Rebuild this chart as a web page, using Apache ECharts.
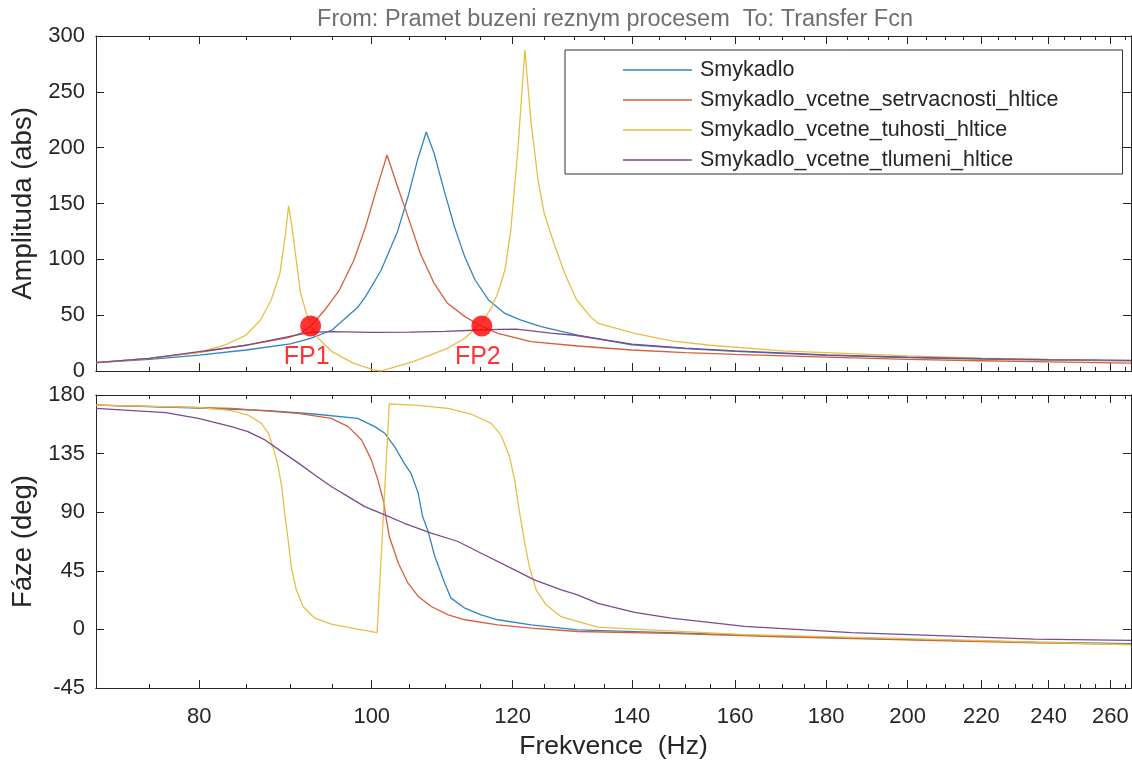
<!DOCTYPE html>
<html>
<head>
<meta charset="utf-8">
<title>Bode</title>
<script src="https://cdn.jsdelivr.net/npm/echarts@6/dist/echarts.min.js"></script>
<style>
  html, body { margin: 0; padding: 0; background: #fff; }
  #chart { width: 1132px; height: 762px; }
</style>
</head>
<body>
<div id="chart"></div>
<script>
// frekvence (Hz) a odectene hodnoty
const seriesNames = ['Smykadlo', 'Smykadlo_vcetne_setrvacnosti_hltice', 'Smykadlo_vcetne_tuhosti_hltice', 'Smykadlo_vcetne_tlumeni_hltice'];

// amplituda
const fAmpSmykadlo = [70, 75, 80, 85, 90, 92.4, 95, 98.2, 99.2, 101.2, 103.4, 104.8, 106.1, 107.3, 108.4, 109.8, 111.3, 112.8, 114.3, 116.3, 118.8, 121.2, 124.5, 130.5, 140, 150, 160, 180, 200, 220, 240, 267];
const ampSmykadlo = [7.5, 10.4, 14.3, 18.8, 24.2, 29.3, 36.7, 57, 66.6, 90, 125, 156, 189, 214, 195, 162, 129, 102, 81.5, 63.6, 51.6, 45.7, 39.7, 32.2, 23.5, 20, 17.5, 14, 12, 10.7, 9.8, 9];

const fAmpSetrv = [70, 75, 80, 85.2, 89.8, 91.2, 92.4, 94.1, 95.9, 97.7, 99.2, 100.5, 102, 103.4, 104.8, 106.5, 108.4, 110.3, 112.8, 115.2, 117.7, 122.9, 130.5, 140, 150, 160, 180, 200, 220, 240, 267];
const ampSetrv = [7.5, 11.3, 16.7, 23.3, 29.9, 33.7, 40, 54.6, 72.5, 99, 129, 160, 193.4, 165, 138, 105, 78.5, 60.6, 48.7, 40.3, 33.7, 26.3, 22.4, 18.8, 16.5, 14.8, 12.5, 10.5, 9.2, 8.2, 7];

const fAmpTuh = [70, 75, 80, 82.7, 85, 86.6, 87.8, 88.8, 89.4, 89.8, 90.2, 90.7, 91.2, 91.9, 92.5, 93.3, 95, 97.5, 100, 101.2, 102.4, 105.5, 110.3, 112.8, 115.2, 116.7, 117.7, 118.8, 119.7, 120.8, 121.9, 122.9, 124, 125, 126.6, 128.3, 130.3, 132.7, 134, 140.5, 147.3, 154.5, 170, 200, 220, 240, 267];
const ampTuh = [7.5, 11.3, 16.7, 23.3, 32.2, 45.7, 63.6, 87.5, 120, 148, 129, 99, 69.6, 51.6, 39.7, 29.3, 17.3, 7.5, 1.5, 0, 2.4, 8.4, 20.3, 29.3, 42.7, 56, 69.6, 90.4, 126, 198, 287.5, 222, 171, 141, 114, 88, 64, 48.7, 42.7, 33.7, 26.9, 23.3, 18, 13.5, 11.5, 10.3, 9.3];

const fAmpTlum = [70, 75, 80, 85.2, 89.8, 92.4, 95, 100, 105, 110, 115, 118, 120.5, 123, 126, 130, 140, 150, 160, 180, 200, 220, 240, 267];
const ampTlum = [7.5, 11.3, 17.3, 23.3, 30.7, 34.5, 35.2, 34.6, 34.8, 35.5, 36.7, 37.3, 37.5, 36, 34, 32, 24, 20.5, 18, 14.5, 12.3, 11, 10.2, 9.5];

// faze
const fPhSmykadlo = [70, 80, 87.5, 92.8, 98.2, 100.4, 101.7, 103, 104.3, 105.2, 106.2, 106.8, 107.5, 108.5, 109.9, 110.8, 112.8, 115.2, 117.7, 122.9, 130.5, 147, 170, 205, 236, 267];
const phSmykadlo = [172.3, 170, 168, 165.4, 162.1, 155.7, 150.6, 140.3, 127.5, 119.9, 104.5, 86.7, 76.4, 56, 35.5, 24, 16.3, 11.2, 7.4, 3.5, -0.3, -2.4, -5.4, -8, -9.8, -11];

const fPhSetrv = [70, 83.4, 90.9, 94.9, 97, 98.7, 99.95, 100.8, 101.5, 101.8, 102.3, 103.5, 104.8, 106.2, 108, 110.4, 112.8, 117.7, 122.9, 130.5, 147, 170, 205, 236, 267];
const phSetrv = [172.3, 169.8, 165.9, 162.1, 155.7, 145.5, 130.2, 114.8, 99.4, 87.9, 71.3, 50.8, 35.5, 25.3, 17.6, 11.2, 7.4, 3.5, 1, -1.6, -3, -5.8, -8.5, -10.3, -11.5];

const fPhTuh = [70, 79.9, 83.4, 85.2, 86.7, 87.5, 88, 88.6, 89, 89.4, 89.8, 90.1, 90.7, 91.5, 92.9, 94.9, 98.2, 100.7, 102.3, 105.7, 110.4, 113.7, 116.7, 118.2, 119.5, 120.3, 121, 121.8, 122.6, 123.7, 125.3, 127.7, 130.5, 134, 140.5, 162, 205, 267];
const phTuh = [172.3, 170.5, 168, 164.6, 158.2, 150.5, 140.3, 125, 109.7, 86.7, 66.2, 48.3, 30.4, 17.6, 8.6, 4, 0.2, -2.4, 173.1, 172.3, 169.7, 165.4, 158.2, 149.2, 132.7, 114.8, 91.8, 68.7, 48.3, 30.4, 18.9, 9.9, 6.1, 1.7, 0.2, -4, -7.5, -11.8];

const fPhTlum = [70, 76.6, 79.9, 83.4, 85.2, 87.1, 89, 91, 92.9, 94.9, 97, 99.1, 101.7, 104.3, 108, 111.8, 115.2, 120.3, 123.4, 127.8, 130.5, 134, 140.5, 147.3, 162, 186, 214, 235.6, 267];
const phTlum = [169.7, 166.4, 162.1, 155.7, 151.9, 145.5, 136.5, 127.5, 118.6, 109.7, 102, 94.3, 87.9, 81.5, 73.9, 67.5, 58.5, 45.7, 38, 30.4, 26.5, 20, 13, 8.7, 2.3, -2.4, -5.4, -7.5, -8.5];

// body FP1, FP2
const fpNames = ['FP1', 'FP2'];
const fpFreq = [92.4, 115.3];
const fpAmp = [40.3, 40.3];

// popisky osy x
const majorTicks = [80, 100, 120, 140, 160, 180, 200, 220, 240, 260];
const minorTicks = [75, 85, 90, 95, 105, 110, 115, 125, 130, 135, 145, 150, 155, 165, 170, 175, 185, 190, 195, 205, 210, 215, 225, 230, 235, 245, 250, 255, 265];

const FMIN = 70, FMAX = 267;
const colors = ['#2f86c2', '#d65f3c', '#e7bf45', '#7c4a8e'];
const ink = '#262626';
const font = 'Liberation Sans';

const lg = Math.log10;
const xy = (fs, vs) => fs.map((f, i) => [lg(f), vs[i]]);

// logaritmicka osa -> hodnoty log10(f)
function xAx(grid, pos, ticks, len, labels) {
    return {
        type: 'value', gridIndex: grid, position: pos,
        min: lg(FMIN), max: lg(FMAX),
        axisLine: { show: true, onZero: false, lineStyle: { color: ink, width: 1 } },
        axisTick: { show: true, inside: true, length: len, customValues: ticks.map(lg), lineStyle: { color: ink } },
        axisLabel: labels ? {
            show: true, customValues: ticks.map(lg), margin: 18,
            fontSize: 22, color: ink, fontFamily: font,
            formatter: v => String(Math.round(Math.pow(10, v)))
        } : { show: false },
        splitLine: { show: false }
    };
}

function yAx(grid, pos, min, max, step, name) {
    return {
        type: 'value', gridIndex: grid, position: pos, min: min, max: max, interval: step,
        name: name || '', nameLocation: 'middle', nameGap: 57,
        nameTextStyle: { fontSize: 27.5, color: ink, fontFamily: font },
        axisLine: { show: true, onZero: false, lineStyle: { color: ink, width: 1 } },
        axisTick: { show: true, inside: true, length: 8, lineStyle: { color: ink } },
        axisLabel: pos === 'left' ? { show: true, margin: 11, fontSize: 22, color: ink, fontFamily: font } : { show: false },
        splitLine: { show: false }
    };
}

const freqAmp = [fAmpSmykadlo, fAmpSetrv, fAmpTuh, fAmpTlum];
const valAmp = [ampSmykadlo, ampSetrv, ampTuh, ampTlum];
const freqPh = [fPhSmykadlo, fPhSetrv, fPhTuh, fPhTlum];
const valPh = [phSmykadlo, phSetrv, phTuh, phTlum];

const series = [];
seriesNames.forEach((n, i) => {
    series.push({
        name: n, type: 'line', xAxisIndex: 0, yAxisIndex: 0,
        data: xy(freqAmp[i], valAmp[i]), symbol: 'none',
        lineStyle: { color: colors[i], width: 1.3 }, itemStyle: { color: colors[i] }
    });
});
seriesNames.forEach((n, i) => {
    series.push({
        name: n, type: 'line', xAxisIndex: 4, yAxisIndex: 2,
        data: xy(freqPh[i], valPh[i]), symbol: 'none',
        lineStyle: { color: colors[i], width: 1.3 }, itemStyle: { color: colors[i] }
    });
});
series.push({
    type: 'scatter', xAxisIndex: 0, yAxisIndex: 0, symbolSize: 21, z: 5,
    itemStyle: { color: '#ff0000' },
    label: { show: true, position: 'bottom', distance: 8, offset: [-4, 0], formatter: '{b}', color: '#ff0000', fontSize: 25, fontFamily: font },
    data: fpNames.map((n, i) => ({ name: n, value: [lg(fpFreq[i]), fpAmp[i]] }))
});

const chart = echarts.init(document.getElementById('chart'));
chart.setOption({
    animation: false,
    backgroundColor: '#fff',
    title: {
        text: 'From: Pramet buzeni reznym procesem  To: Transfer Fcn',
        left: 610, top: 3, textAlign: 'center',
        textStyle: { fontSize: 23.5, fontWeight: 'normal', color: '#6f6f6f', fontFamily: font }
    },
    legend: {
        data: seriesNames, orient: 'vertical', left: 565, top: 50,
        padding: [9, 64, 3, 58], itemWidth: 69, itemHeight: 1.4, itemGap: 8,
        icon: 'rect',
        borderColor: '#333', borderWidth: 1, backgroundColor: '#fff',
        textStyle: { fontSize: 21.5, color: ink, fontFamily: font, padding: [0, 0, 0, 3] },
        selectedMode: false
    },
    grid: [
        { left: 96, top: 36, width: 1035, height: 335, outerBoundsMode: 'none' },
        { left: 96, top: 395, width: 1035, height: 293, outerBoundsMode: 'none' }
    ],
    xAxis: [
        xAx(0, 'bottom', majorTicks, 8, false),
        xAx(0, 'bottom', minorTicks, 4, false),
        xAx(0, 'top', majorTicks, 8, false),
        xAx(0, 'top', minorTicks, 4, false),
        Object.assign(xAx(1, 'bottom', majorTicks, 8, true), {
            name: 'Frekvence  (Hz)', nameLocation: 'middle', nameGap: 45,
            nameTextStyle: { fontSize: 26.5, color: ink, fontFamily: font }
        }),
        xAx(1, 'bottom', minorTicks, 4, false),
        xAx(1, 'top', majorTicks, 8, false),
        xAx(1, 'top', minorTicks, 4, false)
    ],
    yAxis: [
        yAx(0, 'left', 0, 300, 50, 'Amplituda (abs)'),
        yAx(0, 'right', 0, 300, 50),
        yAx(1, 'left', -45, 180, 45, 'Fáze (deg)'),
        yAx(1, 'right', -45, 180, 45)
    ],
    series: series
});
</script>
</body>
</html>
